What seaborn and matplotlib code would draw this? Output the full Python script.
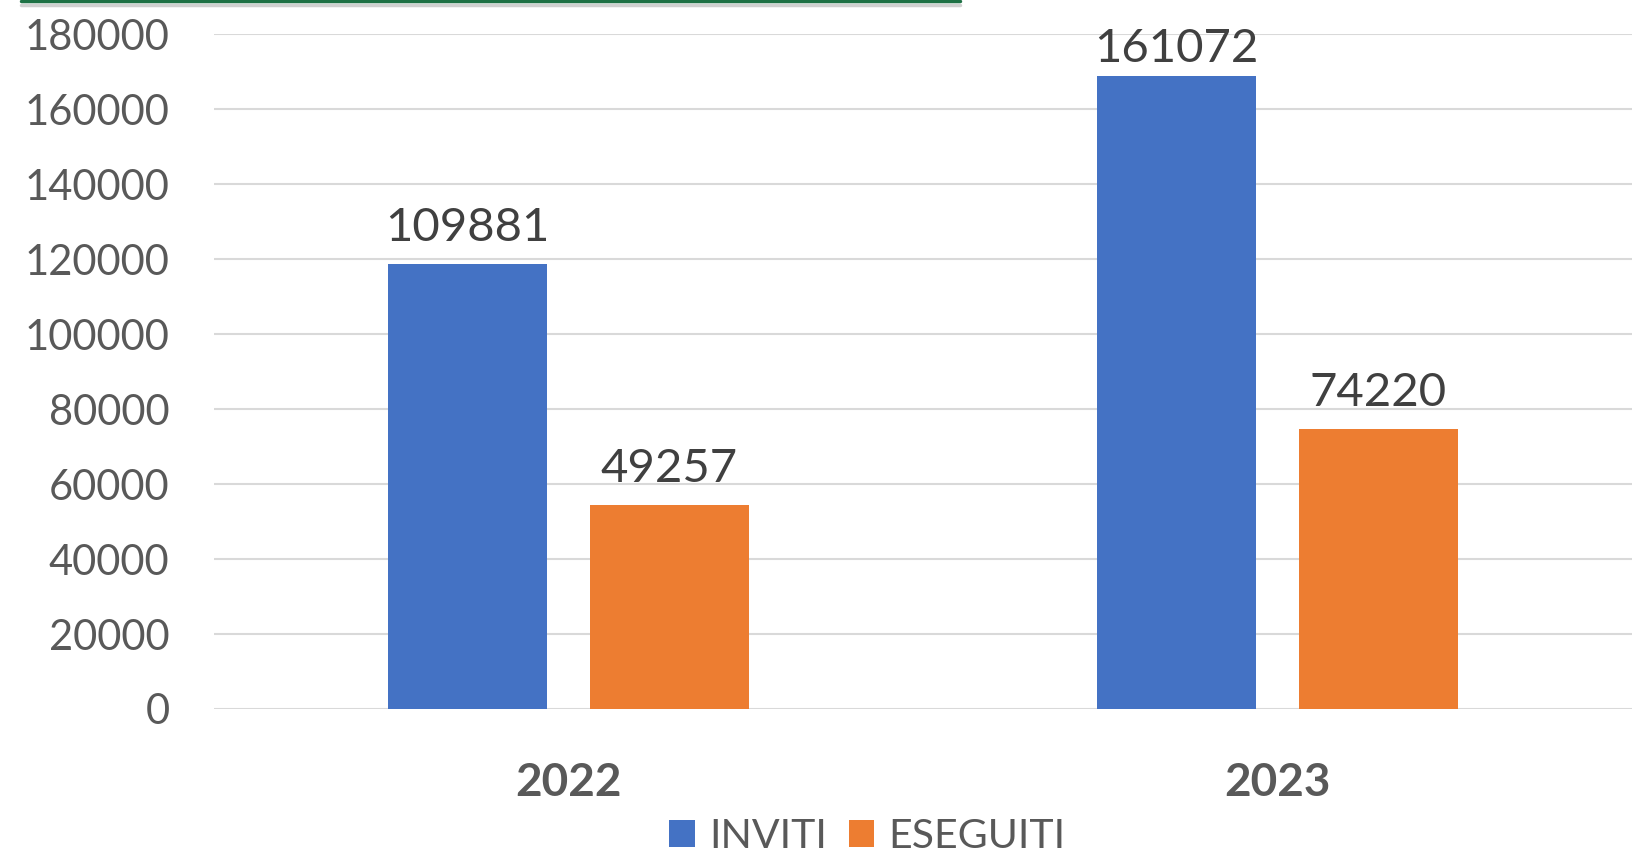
import matplotlib
matplotlib.use("Agg")
import matplotlib.pyplot as plt
from matplotlib.lines import Line2D
from matplotlib.patches import Patch
import seaborn as sns
import pandas as pd

# data
anni = ["2022", "2023"]
serie = ["INVITI", "ESEGUITI"]
inviti = [118600, 168900]      # bar heights as drawn
eseguiti = [54400, 74700]
etichette_inviti = ["109881", "161072"]   # printed data labels
etichette_eseguiti = ["49257", "74220"]
y_ticks = [0, 20000, 40000, 60000, 80000, 100000, 120000, 140000, 160000, 180000]
colori = ["#4472C4", "#ED7D31"]

df = pd.DataFrame({
    "anno": anni * 2,
    "serie": [serie[0]] * 2 + [serie[1]] * 2,
    "valore": inviti + eseguiti,
})

sns.set_style("white")
plt.rcParams["font.family"] = ["Lato", "DejaVu Sans"]

fig = plt.figure(figsize=(16.32, 8.55), dpi=100)
ax = fig.add_axes([0.1311, 0.1708, 0.8689, 0.7891])

sns.barplot(data=df, x="anno", y="valore", hue="serie", palette=colori,
            width=0.57, gap=0.21, ax=ax, legend=False, linewidth=0,
            saturation=1)

ax.set_ylim(0, 180000)
ax.set_xlim(-0.5, 1.5)
ax.set_yticks(y_ticks)
ax.set_yticklabels([str(v) for v in y_ticks])
ax.yaxis.grid(True, color="#D9D9D9", linewidth=1.5)
ax.set_axisbelow(True)
for s in ax.spines.values():
    s.set_visible(False)

ax.tick_params(axis="y", length=0, pad=32, labelsize=30, labelcolor="#595959")
ax.tick_params(axis="x", length=0, pad=38, labelsize=33, labelcolor="#595959")
for t in ax.get_xticklabels():
    t.set_fontweight("bold")
ax.set_xlabel("")
ax.set_ylabel("")

for cont, lab in zip(ax.containers, [etichette_inviti, etichette_eseguiti]):
    testi = ax.bar_label(cont, labels=lab, padding=11, fontsize=34, color="#404040")
    # the top label sits closer to its bar, as in the original
    for t, h in zip(testi, cont.datavalues):
        if h > 160000:
            t.xyann = (t.xyann[0], 4)

handles = [Patch(facecolor=c, edgecolor="none") for c in colori]
fig.legend(handles, serie, loc="center", bbox_to_anchor=(0.5316, 0.022),
           ncol=2, frameon=False, fontsize=29.5, labelcolor="#595959",
           handlelength=0.62, handleheight=0.62, handletextpad=0.35,
           columnspacing=0.53)

# green border of the header box cut at the top
fig.add_artist(Line2D([21 / 1632, 960 / 1632], [1 - 5 / 855, 1 - 5 / 855],
                      color="#D0D0D0", linewidth=2.5))
fig.add_artist(Line2D([21 / 1632, 960 / 1632], [1 - 1.5 / 855, 1 - 1.5 / 855],
                      color="#1E7145", linewidth=2.5))

fig.savefig("out.png", dpi=100)
